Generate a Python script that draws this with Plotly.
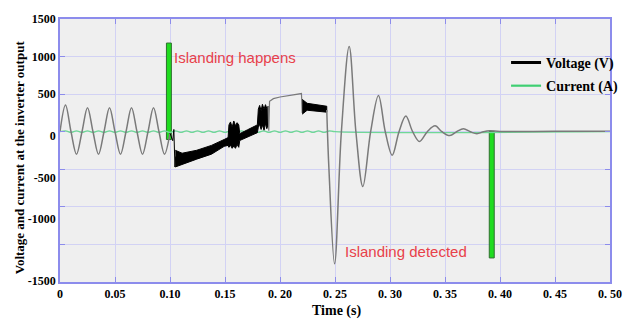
import plotly.graph_objects as go

# ---------------- data ----------------
# Voltage: clean 50 Hz sine before islanding
sine_t = [0, 0.005, 0.01, 0.015, 0.02, 0.025, 0.03, 0.035, 0.04, 0.045, 0.05,
          0.055, 0.06, 0.065, 0.07, 0.075, 0.08, 0.085, 0.09, 0.095, 0.1]
sine_v = [0, 355, 0, -300, 0, 320, 0, -300, 0, 320, 0,
          -300, 0, 320, 0, -300, 0, 320, 0, -300, -20]

# Voltage: transient spike right after islanding
jump1_t = [0.1, 0.1025, 0.1035, 0.1045, 0.1052]
jump1_v = [-20, -120, 30, -470, -330]

# Voltage: dense oscillation band #1 (upper envelope, then lower envelope back)
band1_t = [0.1048, 0.111, 0.1243, 0.1377, 0.1492, 0.1528,
           0.1536, 0.155, 0.1565, 0.158, 0.1595, 0.161, 0.1625,
           0.1634, 0.1705, 0.1794,
           0.1803, 0.1815, 0.1828, 0.184, 0.1855, 0.1868, 0.188, 0.1892,
           0.1892, 0.188, 0.1868, 0.1855, 0.184, 0.1828, 0.1815, 0.1803,
           0.1794, 0.1705, 0.1634,
           0.1625, 0.161, 0.1595, 0.158, 0.1565, 0.155, 0.1536,
           0.1528, 0.1492, 0.1377, 0.1243, 0.111, 0.1048]
band1_v = [-247, -286, -247, -182, -104, -78,
           91, 130, 60, 143, 80, 120, 91,
           -26, 26, 91,
           300, 350, 280, 365, 300, 360, 310, 339,
           91, 40, 110, 20, 90, 30, 100, 60,
           -13, -65, -117,
           -208, -170, -221, -190, -221, -180, -208,
           -182, -195, -299, -365, -430, -469]

# Voltage: thin rising part between the bands
mid_t = [0.1892, 0.1898, 0.1905, 0.194, 0.2, 0.207, 0.214, 0.2195, 0.2202]
mid_v = [339, 13, 404, 440, 462, 480, 495, 508, 250]

# Voltage: dense oscillation band #2
band2_t = [0.2202, 0.2247, 0.2425, 0.2425, 0.2247, 0.2202]
band2_v = [430, 378, 339, 260, 286, 234]

# Voltage: large damped oscillation after the load change
damp_t = [0.2425, 0.2445, 0.2496, 0.2558, 0.2629, 0.269, 0.2753, 0.2824, 0.2895,
          0.2957, 0.302, 0.3082, 0.3144, 0.3206, 0.3268, 0.3339, 0.341, 0.3472,
          0.3544, 0.3606, 0.3668, 0.373, 0.379, 0.385, 0.3908, 0.4, 0.45, 0.5]
damp_v = [290, -500, -1758, 0, 1133, 0, -729, 0, 482,
          0, -312, 0, 208, 0, -130, 0, 78, 0,
          -52, 0, 39, 0, -26, 0, 13, 3, 5, 5]

# Current (A): small ripple around zero, then flat
cur_t = [0, 0.005, 0.01, 0.015, 0.02, 0.025, 0.03, 0.035, 0.04, 0.045, 0.05,
         0.055, 0.06, 0.065, 0.07, 0.075, 0.08, 0.085, 0.09, 0.095, 0.1,
         0.105, 0.11, 0.115, 0.12, 0.125, 0.13, 0.135, 0.14, 0.145, 0.15,
         0.155, 0.16, 0.165, 0.17, 0.175, 0.18, 0.185, 0.19, 0.195, 0.2,
         0.205, 0.21, 0.215, 0.22, 0.225, 0.23, 0.235, 0.24, 0.245, 0.25, 0.5]
cur_v = [0, 12, -10, 12, -10, 12, -10, 12, -10, 12, -10,
         12, -10, 12, -10, 12, -10, 12, -10, 12, -10,
         12, -10, 12, -10, 12, -10, 12, -10, 12, -10,
         12, -10, 12, -10, 12, -10, 12, -10, 12, -10,
         12, -10, 12, -10, 12, -10, 12, -10, 12, 0, 0]

# Event markers (green bars)
bar_t = [0.099, 0.3925]
bar_top = [1180, 5]
bar_bottom = [-104, -1680]

# Axis ticks
x_ticks = [0, 0.05, 0.1, 0.15, 0.2, 0.25, 0.3, 0.35, 0.4, 0.45, 0.5]
x_ticktext = ["0", "0.05", "0.10", "0.15", "0. 20", "0. 25", "0. 30", "0. 35",
              "0. 40", "0. 45", "0. 50"]
y_grid = [-1500, -1000, -500, 0, 500, 1000]
y_label_pos = [1500, 1000, 500, -52, -612, -1159, -1979]
y_label_text = ["1500", "1000", "500", "0", "-500", "-1000", "-1500"]

# ---------------- styles ----------------
GRAY = "#7a7a7a"
BLACK = "#000000"
GREEN_LINE = "#70d896"
BAR_FILL = "#1fdc1f"
BAR_EDGE = "#2f6f2f"
GRID = "#d2d2f4"
AXIS = "#8c8cec"
RED = "#e8414a"
SERIF = "Liberation Serif"

fig = go.Figure()

fig.add_trace(go.Scatter(x=cur_t, y=cur_v, mode="lines", name="Current (A)",
                         line=dict(color=GREEN_LINE, width=1.3, shape="spline"),
                         showlegend=False, legendgroup="c", hoverinfo="skip"))

fig.add_trace(go.Scatter(x=sine_t, y=sine_v, mode="lines", line=dict(color=GRAY, width=1.5, shape="spline"),
                         showlegend=False, legendgroup="v", hoverinfo="skip"))
fig.add_trace(go.Scatter(x=jump1_t, y=jump1_v, mode="lines", line=dict(color=BLACK, width=1),
                         showlegend=False, legendgroup="v", hoverinfo="skip"))
fig.add_trace(go.Scatter(x=band1_t, y=band1_v, mode="lines", fill="toself", fillcolor=BLACK,
                         line=dict(color=BLACK, width=1),
                         showlegend=False, legendgroup="v", hoverinfo="skip"))
fig.add_trace(go.Scatter(x=mid_t, y=mid_v, mode="lines", line=dict(color=GRAY, width=1.2),
                         showlegend=False, legendgroup="v", hoverinfo="skip"))
fig.add_trace(go.Scatter(x=band2_t, y=band2_v, mode="lines", fill="toself", fillcolor=BLACK,
                         line=dict(color=BLACK, width=1),
                         showlegend=False, legendgroup="v", hoverinfo="skip"))
fig.add_trace(go.Scatter(x=damp_t, y=damp_v, mode="lines", line=dict(color=GRAY, width=1.5, shape="spline"),
                         showlegend=False, legendgroup="v", hoverinfo="skip"))

fig.add_trace(go.Bar(x=bar_t, y=[t - b for t, b in zip(bar_top, bar_bottom)], base=bar_bottom,
                     width=0.0045, marker=dict(color=BAR_FILL, line=dict(color=BAR_EDGE, width=1)),
                     showlegend=False, hoverinfo="skip"))

# legend entries
fig.add_trace(go.Scatter(x=[None], y=[None], mode="lines", name="Voltage (V)",
                         line=dict(color=BLACK, width=3), legendgroup="v"))
fig.add_trace(go.Scatter(x=[None], y=[None], mode="lines", name="Current (A)",
                         line=dict(color="#3fcf72", width=2.2), legendgroup="c"))

fig.update_layout(
    width=636, height=322, autosize=False,
    margin=dict(l=60, r=13, t=14, b=40),
    paper_bgcolor="white", plot_bgcolor="#efefef",
    barmode="overlay",
    font=dict(family=SERIF, size=12, color="black"),
    legend=dict(x=0.811, y=0.894, xanchor="left", yanchor="top",
                bgcolor="rgba(0,0,0,0)", font=dict(family=SERIF, size=14, weight="bold"),
                tracegroupgap=2, itemwidth=30),
    annotations=[
        dict(x=0.102, y=990, xref="x", yref="y", text="Islanding happens", showarrow=False,
             xanchor="left", yanchor="middle", font=dict(family="Liberation Sans", size=15, color=RED)),
        dict(x=0.2575, y=-1588, xref="x", yref="y", text="Islanding detected", showarrow=False,
             xanchor="left", yanchor="middle", font=dict(family="Liberation Sans", size=15, color=RED)),
        dict(x=-0.0746, y=0.474, xref="paper", yref="paper", text="Voltage and current at the inverter output",
             showarrow=False, textangle=-90, xanchor="center", yanchor="middle",
             font=dict(family=SERIF, size=13, weight="bold")),
        dict(x=0.503, y=-0.112, xref="paper", yref="paper", text="Time (s)", showarrow=False,
             xanchor="center", yanchor="middle", font=dict(family=SERIF, size=14, weight="bold")),
    ],
)

fig.update_xaxes(range=[0, 0.5], tickmode="array", tickvals=x_ticks, ticktext=x_ticktext,
                 showgrid=True, gridcolor=GRID, gridwidth=1, zeroline=False,
                 showline=True, linecolor=AXIS, linewidth=1.5, mirror="ticks",
                 ticks="inside", ticklen=5, tickcolor=AXIS,
                 tickfont=dict(family=SERIF, size=12, weight="bold"))

fig.update_yaxes(range=[-2000, 1500], tickmode="array", tickvals=y_label_pos, ticktext=y_label_text,
                 showgrid=False, zeroline=False, ticks="",
                 showline=True, linecolor=AXIS, linewidth=1.5, mirror="ticks",
                 tickfont=dict(family=SERIF, size=12, weight="bold"),
                 minor=dict(tickmode="array", tickvals=y_grid, showgrid=True, gridcolor=GRID,
                            ticks="inside", ticklen=5, tickcolor=AXIS))

fig.write_html("out.html")
